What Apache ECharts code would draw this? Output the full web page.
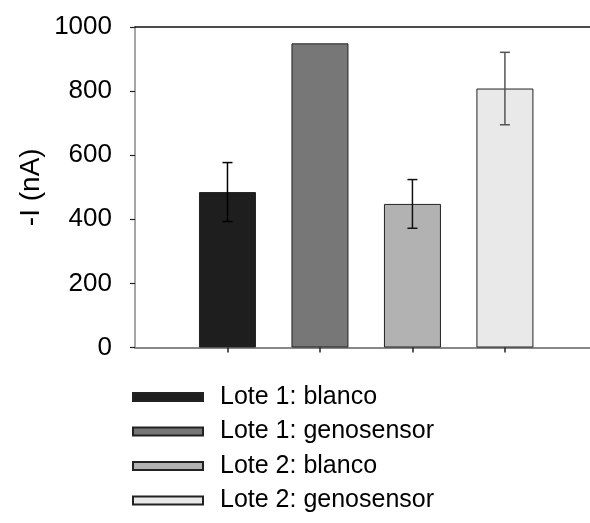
<!DOCTYPE html>
<html>
<head>
<meta charset="utf-8">
<script src="https://cdn.jsdelivr.net/npm/echarts@6/dist/echarts.min.js"></script>
<style>html,body{margin:0;padding:0;background:#fff}#c{width:590px;height:523px}</style>
</head>
<body>
<div id="c"></div>
<script>
const categories = ['Lote 1: blanco', 'Lote 1: genosensor', 'Lote 2: blanco', 'Lote 2: genosensor'];
const positions = [1, 2, 3, 4];
const values = [485, 949, 448, 808];
const errors = [92, 0, 76, 113];
const yTicks = [0, 200, 400, 600, 800, 1000];

const fills = ['#1e1e1e', '#777777', '#b2b2b2', '#e9e9e9'];
const errColors = ['#000000', '#000000', '#111111', '#555555'];
const FONT = "'Liberation Sans', Arial, sans-serif";

const barSeries = categories.map((name, i) => ({
  name: name,
  type: 'bar',
  barWidth: 57,
  barGap: '-100%',
  itemStyle: { color: fills[i], borderColor: '#222', borderWidth: 1 },
  data: [[positions[i], values[i]]],
  z: 2
}));

const errData = values.map((v, i) => [positions[i], v - errors[i], v + errors[i], i]).filter((d, i) => errors[i] > 0);

const errSeries = {
  type: 'custom',
  name: 'err',
  z: 5,
  data: errData,
  renderItem: function (params, api) {
    const x = api.value(0);
    const lo = api.coord([x, api.value(1)]);
    const hi = api.coord([x, api.value(2)]);
    const col = errColors[api.value(3)];
    const cap = 5;
    const st = { stroke: col, lineWidth: 1.5 };
    return {
      type: 'group',
      children: [
        { type: 'line', shape: { x1: lo[0], y1: lo[1], x2: hi[0], y2: hi[1] }, style: st },
        { type: 'line', shape: { x1: hi[0] - cap, y1: hi[1], x2: hi[0] + cap, y2: hi[1] }, style: st },
        { type: 'line', shape: { x1: lo[0] - cap, y1: lo[1], x2: lo[0] + cap, y2: lo[1] }, style: st }
      ]
    };
  }
};

const chart = echarts.init(document.getElementById('c'), null, { renderer: 'canvas' });
chart.setOption({
  animation: false,
  backgroundColor: '#fff',
  textStyle: { fontFamily: FONT },
  grid: { left: 135, top: 27, width: 455, height: 320.5, outerBoundsMode: 'none', containLabel: false },
  legend: {
    data: categories,
    orient: 'vertical',
    left: 132,
    top: 382,
    padding: 0,
    itemWidth: 70,
    itemHeight: 8,
    itemGap: 4.5,
    selectedMode: false,
    icon: 'rect',
    textStyle: { fontFamily: FONT, fontSize: 25, lineHeight: 30, color: '#000', padding: [0, 0, 0, 12] }
  },
  xAxis: [{
    type: 'value',
    min: 0,
    max: 4.92,
    interval: 1,
    offset: 3,
    axisLine: { show: true, lineStyle: { color: '#888', width: 2 } },
    axisTick: { show: true, length: 5, customValues: positions, lineStyle: { color: '#222', width: 1.5 } },
    axisLabel: { show: false },
    splitLine: { show: false }
  }, {
    type: 'value',
    position: 'top',
    min: 0,
    max: 4.92,
    axisLine: { show: true, lineStyle: { color: '#111', width: 1.5 } },
    axisTick: { show: false },
    axisLabel: { show: false },
    splitLine: { show: false }
  }],
  yAxis: {
    type: 'value',
    min: yTicks[0],
    max: yTicks[yTicks.length - 1],
    interval: 200,
    name: '-I (nA)',
    nameLocation: 'middle',
    nameGap: 104,
    nameMoveOverlap: false,
    nameRotate: 90,
    nameTextStyle: { fontFamily: FONT, fontSize: 28, color: '#000', verticalAlign: 'middle' },
    axisLine: { show: true, lineStyle: { color: '#888', width: 1.5 } },
    axisTick: { show: true, length: 5, lineStyle: { color: '#222', width: 1.2 } },
    axisLabel: { fontFamily: FONT, fontSize: 26, color: '#000', margin: 23, formatter: v => String(v) },
    splitLine: { show: false }
  },
  series: barSeries.concat([errSeries])
});
</script>
</body>
</html>
